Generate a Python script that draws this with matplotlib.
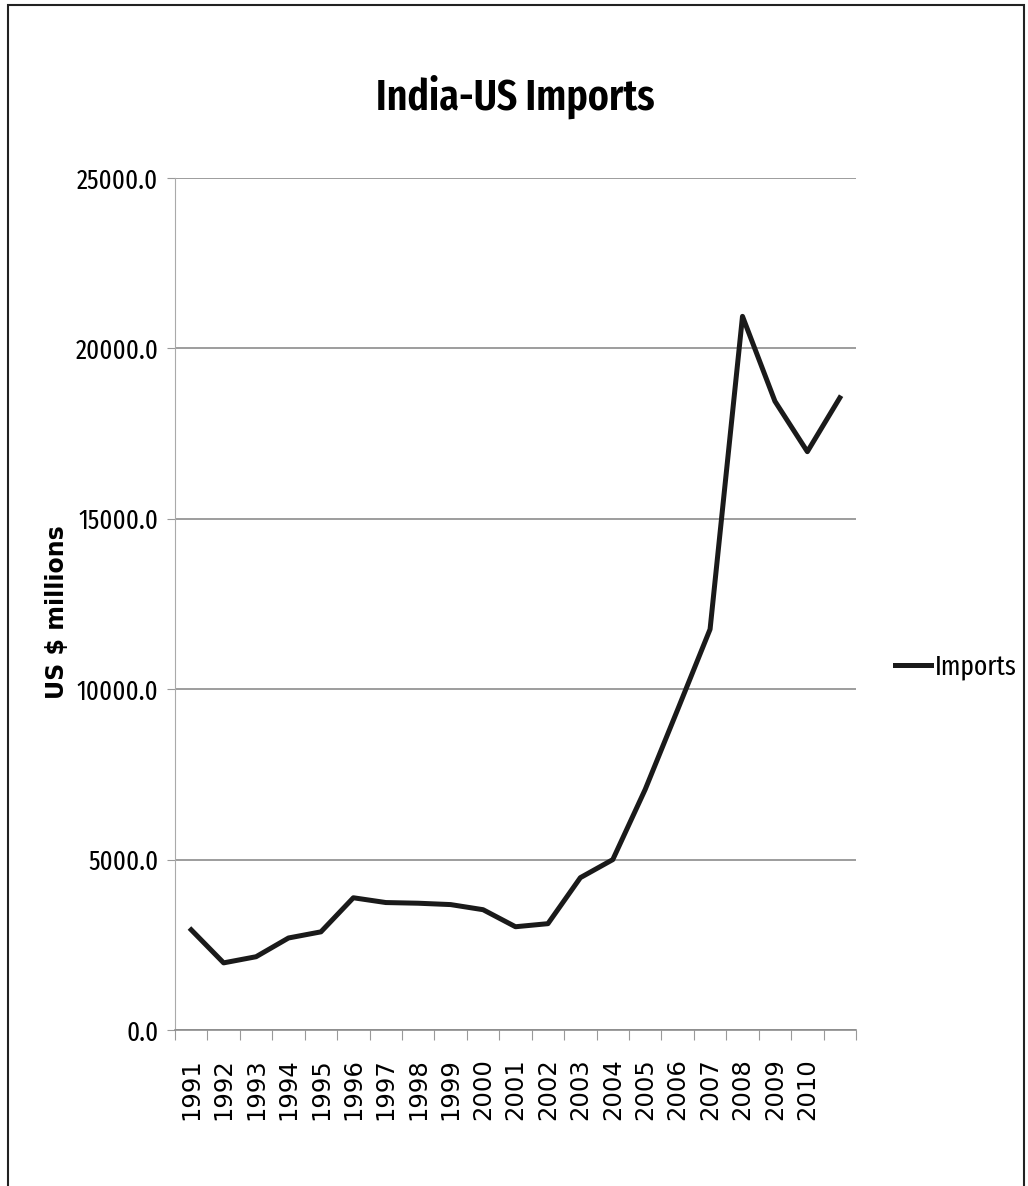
import matplotlib
matplotlib.use("Agg")
import matplotlib.pyplot as plt
from matplotlib.patches import Rectangle

years = ["1991", "1992", "1993", "1994", "1995", "1996", "1997", "1998", "1999", "2000",
         "2001", "2002", "2003", "2004", "2005", "2006", "2007", "2008", "2009", "2010", ""]
imports = [2940, 1970, 2150, 2700, 2880, 3880, 3740, 3720, 3680, 3530,
           3030, 3120, 4470, 5000, 7060, 9400, 11760, 20940, 18450, 16970, 18550]
yticks = [0, 5000, 10000, 15000, 20000, 25000]

narrow = ["Fira Sans Extra Condensed", "Carlito", "DejaVu Sans"]

fig = plt.figure(figsize=(10.28, 11.86), dpi=100)
ax = fig.add_axes([175/1028, 1 - 1030/1186, (856-175)/1028, (1030-178)/1186])

x = list(range(len(imports)))
ax.plot(x, imports, color="#1a1a1a", lw=3.6, solid_joinstyle="round", label="Imports", zorder=3)

ax.set_xlim(-0.5, len(imports) - 0.5)
ax.set_ylim(0, 25000)

# category labels between tick marks
ax.set_xticks([i - 0.5 for i in range(len(imports) + 1)])
ax.set_xticklabels([])
ax.set_xticks(x, minor=True)
ax.set_xticklabels(years, minor=True, rotation=90, fontsize=17.5, family="DejaVu Sans")
ax.tick_params(axis="x", which="major", length=7, color="#999999", direction="out", width=0.8)
ax.tick_params(axis="x", which="minor", length=0, pad=20)

ax.set_yticks(yticks)
ax.set_yticklabels([f"{v:.1f}" for v in yticks], family=narrow, fontsize=19.5)
ax.tick_params(axis="y", length=6, color="#999999", width=0.8, pad=6)

ax.grid(axis="y", color="#8c8c8c", lw=1.2)
ax.set_axisbelow(True)
for s in ["top", "right"]:
    ax.spines[s].set_visible(False)
ax.spines["left"].set_color("#aaaaaa")
ax.spines["left"].set_linestyle((0, (1, 1)))
ax.spines["bottom"].set_color("#8c8c8c")
ax.spines["bottom"].set_linewidth(1.2)

fig.text(57/1028, 1 - 612/1186, "US $ millions", rotation=90, ha="center", va="center",
         family="DejaVu Sans", fontweight="bold", fontsize=17)

fig.text(515/1028, 1 - 97/1186, "India-US Imports", ha="center", va="center",
         family=narrow, fontweight=600, fontsize=31)

leg = ax.legend(loc="center left", bbox_to_anchor=(895/1028, 1 - 667/1186),
                bbox_transform=fig.transFigure, frameon=False, borderpad=0, borderaxespad=0,
                prop={"family": narrow, "size": 20}, handlelength=1.3, handletextpad=0.15)

fig.patches.append(Rectangle((8/1028, -0.02), (1024-8)/1028, 1.02 - 5/1186,
                             transform=fig.transFigure, fill=False, ec="#222222", lw=1.5))

fig.savefig("out.png", dpi=100, facecolor="white")
